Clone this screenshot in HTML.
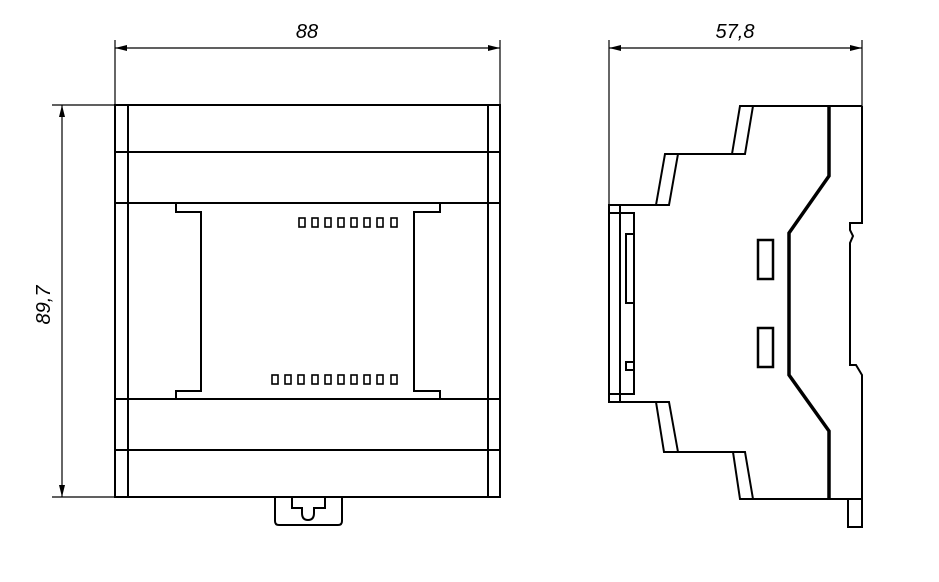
<!DOCTYPE html>
<html><head><meta charset="utf-8"><style>
html,body{margin:0;padding:0;background:#fff;}
svg{display:block;}
text{font-family:"Liberation Sans",sans-serif;font-style:italic;font-size:20px;fill:#000;}
</style></head><body>
<svg width="939" height="582" viewBox="0 0 939 582" xmlns="http://www.w3.org/2000/svg">
<defs>
<marker id="a" viewBox="0 0 12 6" refX="12" refY="3" markerWidth="12" markerHeight="6" orient="auto-start-reverse" markerUnits="userSpaceOnUse"><path d="M0,0 L12,3 L0,6 z" fill="#000"/></marker>
</defs>
<g stroke="#000" fill="none">
<!-- dims front -->
<line x1="115" y1="40" x2="115" y2="105" stroke-width="1.2"/>
<line x1="500" y1="40" x2="500" y2="105" stroke-width="1.2"/>
<line x1="115" y1="48" x2="500" y2="48" stroke-width="1.2" marker-start="url(#a)" marker-end="url(#a)"/>
<line x1="52" y1="105" x2="115" y2="105" stroke-width="1.2"/>
<line x1="52" y1="497" x2="115" y2="497" stroke-width="1.2"/>
<line x1="62" y1="105" x2="62" y2="497" stroke-width="1.2" marker-start="url(#a)" marker-end="url(#a)"/>
<!-- front body -->
<g stroke-width="2">
<rect x="115" y="105" width="385" height="392"/>
<line x1="128" y1="105" x2="128" y2="497"/>
<line x1="488" y1="105" x2="488" y2="497"/>
<line x1="115" y1="152" x2="500" y2="152"/>
<line x1="115" y1="203" x2="500" y2="203"/>
<line x1="115" y1="399" x2="500" y2="399"/>
<line x1="115" y1="450" x2="500" y2="450"/>
<polyline points="176,203 176,212 201,212 201,391 176,391 176,399"/>
<polyline points="440,203 440,212 414,212 414,391 440,391 440,399"/>
<path d="M275,497 V521 Q275,525 279,525 H338 Q342,525 342,521 V497"/>
<path d="M292,497 V508 H302 V513 Q302,520 308,520 Q314,520 314,513 V508 H325 V497"/>
</g>
<g stroke-width="1.6">
<rect x="299" y="218" width="6" height="9"/><rect x="312" y="218" width="6" height="9"/><rect x="325" y="218" width="6" height="9"/><rect x="338" y="218" width="6" height="9"/><rect x="351" y="218" width="6" height="9"/><rect x="364" y="218" width="6" height="9"/><rect x="377" y="218" width="6" height="9"/><rect x="391" y="218" width="6" height="9"/>
<rect x="272" y="375" width="6" height="9"/><rect x="285" y="375" width="6" height="9"/><rect x="298" y="375" width="6" height="9"/><rect x="312" y="375" width="6" height="9"/><rect x="325" y="375" width="6" height="9"/><rect x="338" y="375" width="6" height="9"/><rect x="351" y="375" width="6" height="9"/><rect x="364" y="375" width="6" height="9"/><rect x="377" y="375" width="6" height="9"/><rect x="391" y="375" width="6" height="9"/>
</g>
<!-- side dims -->
<line x1="609" y1="40" x2="609" y2="205" stroke-width="1.2"/>
<line x1="862" y1="40" x2="862" y2="106" stroke-width="1.2"/>
<line x1="609" y1="48" x2="862" y2="48" stroke-width="1.2" marker-start="url(#a)" marker-end="url(#a)"/>
<!-- side body -->
<g stroke-width="2">
<rect x="609" y="205" width="11" height="197"/>
<rect x="609" y="213" width="25" height="181"/>
<rect x="626" y="234" width="8" height="69"/>
<rect x="626" y="362" width="8" height="8"/>
<polyline points="620,205 669,205 678,154 745,154 753,106 862,106"/>
<polyline points="656,205 665,154 678,154"/>
<polyline points="732,154 740,106 753,106"/>
<polyline points="620,402 656,402 664,452 733,452 740,499 862,499"/>
<polyline points="656,402 669,402 678,452"/>
<polyline points="733,452 745,452 753,499"/>
<polyline points="862,106 862,223 850,223 850,230 853,236 850,243 850,365 856,365 862,375 862,499"/>
<rect x="848" y="499" width="14" height="28"/>
<rect x="758" y="240" width="15" height="39" stroke-width="2.5"/>
<rect x="758" y="328" width="15" height="39" stroke-width="2.5"/>
</g>
<polyline points="829,106 829,176 789,233 789,375 829,431 829,499" stroke-width="3.5"/>
</g>
<text x="307" y="38" text-anchor="middle">88</text>
<text x="735" y="38" text-anchor="middle">57,8</text>
<text transform="translate(50,305) rotate(-90)" text-anchor="middle">89,7</text>
</svg>
</body></html>
